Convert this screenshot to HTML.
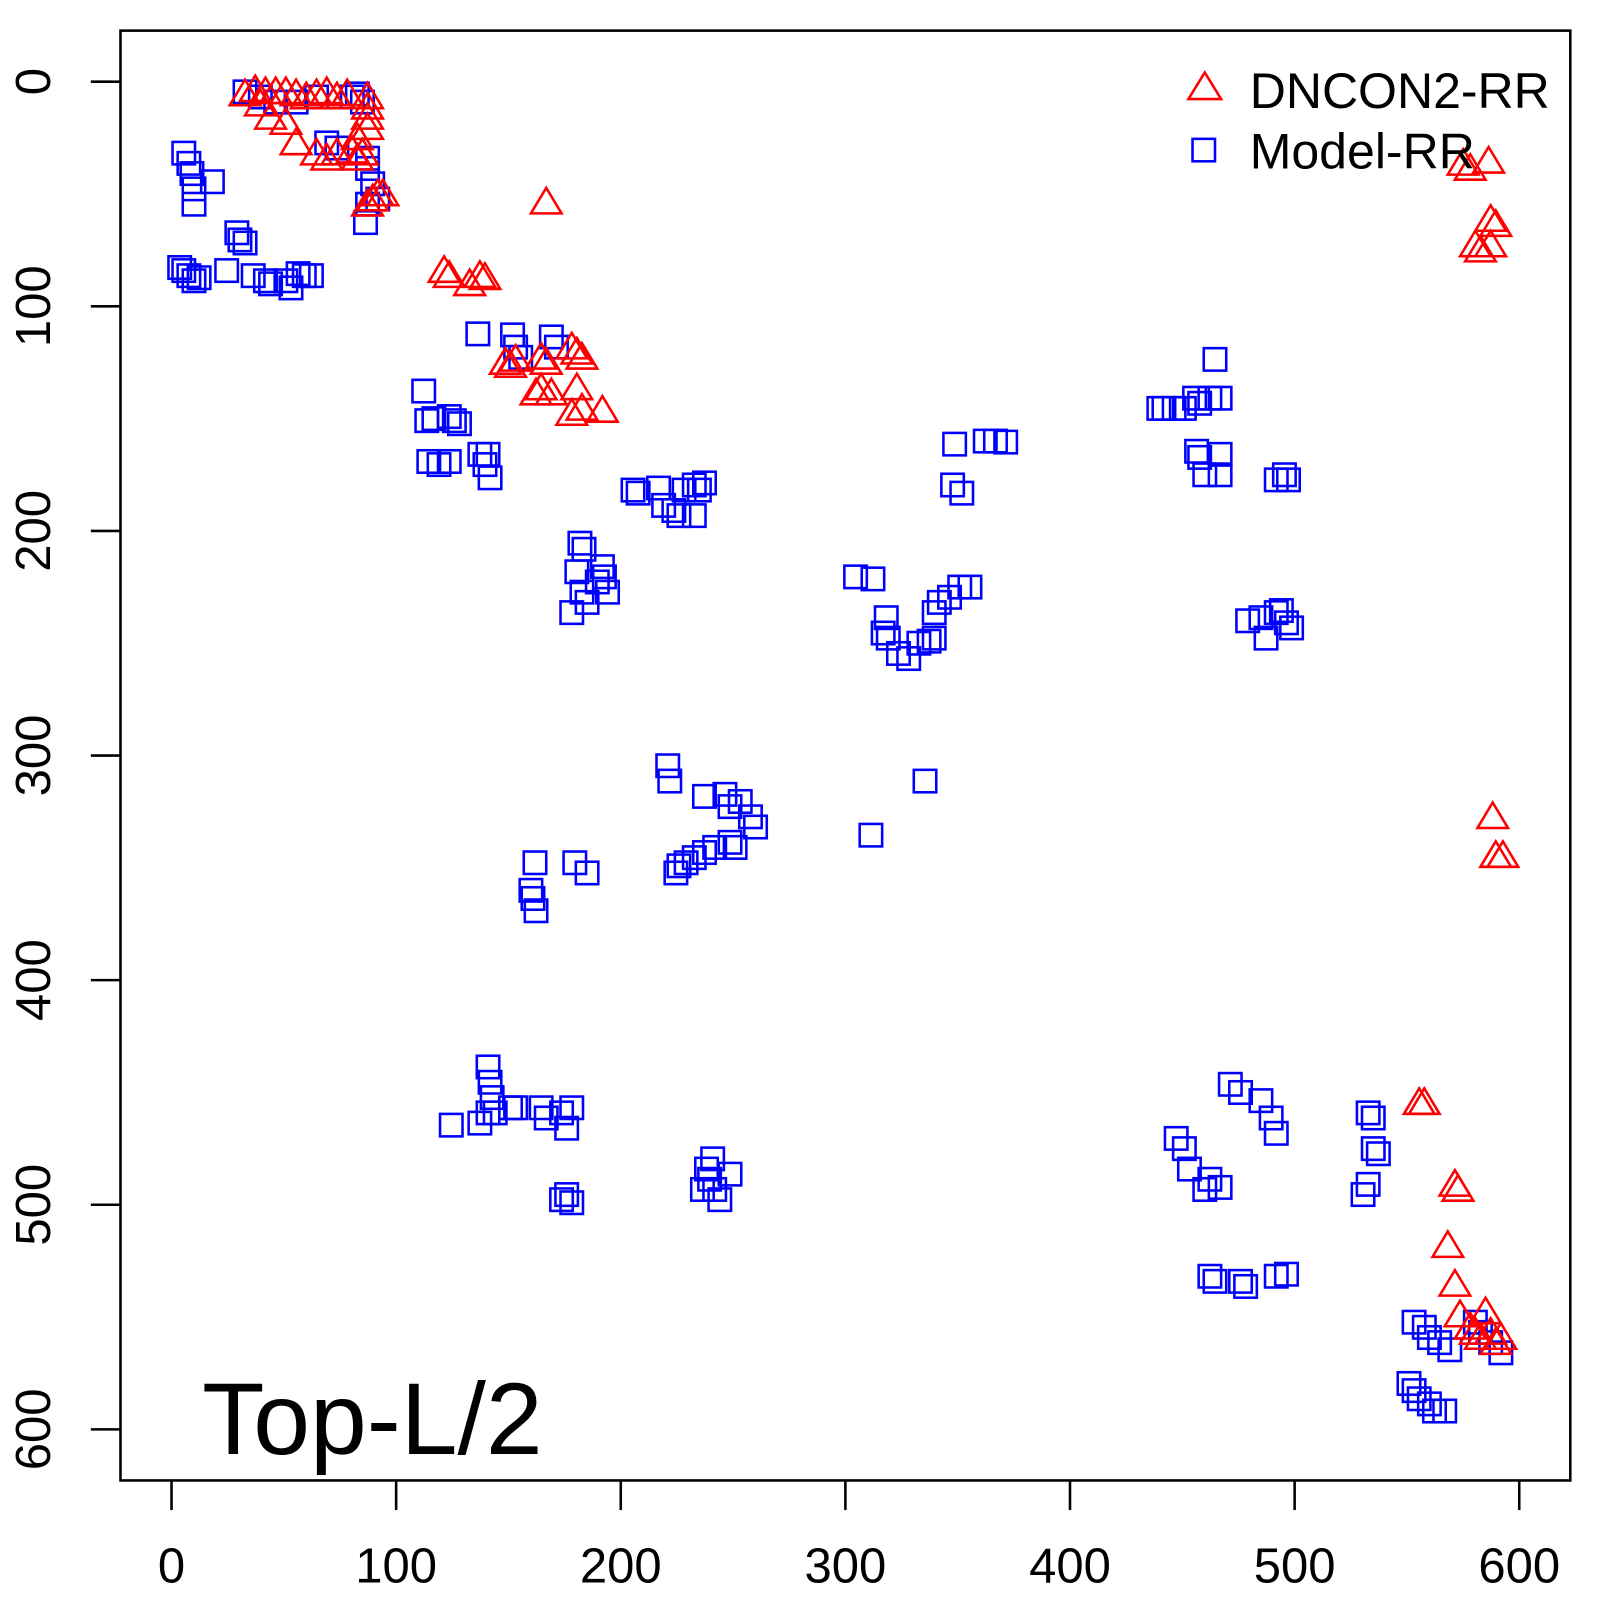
<!DOCTYPE html>
<html><head><meta charset="utf-8"><style>
html,body{margin:0;padding:0;background:#fff;}
svg{display:block;font-family:"Liberation Sans",sans-serif;}
</style></head><body>
<svg id="s" width="1600" height="1600" viewBox="0 0 1600 1600" xmlns="http://www.w3.org/2000/svg">
<g transform="scale(1.021)">
<rect x="118" y="30" width="1420" height="1420" fill="none" stroke="#000" stroke-width="2.5"/>
<g stroke="#000" stroke-width="2.5">
<line x1="168" y1="1450" x2="168" y2="1479"/><line x1="388" y1="1450" x2="388" y2="1479"/><line x1="608" y1="1450" x2="608" y2="1479"/><line x1="828" y1="1450" x2="828" y2="1479"/><line x1="1048" y1="1450" x2="1048" y2="1479"/><line x1="1268" y1="1450" x2="1268" y2="1479"/><line x1="1488" y1="1450" x2="1488" y2="1479"/>
<line x1="89" y1="80" x2="118" y2="80"/><line x1="89" y1="300" x2="118" y2="300"/><line x1="89" y1="520" x2="118" y2="520"/><line x1="89" y1="740" x2="118" y2="740"/><line x1="89" y1="960" x2="118" y2="960"/><line x1="89" y1="1180" x2="118" y2="1180"/><line x1="89" y1="1400" x2="118" y2="1400"/>
</g>
<g font-size="48" text-anchor="middle" fill="#000">
<text x="168" y="1550">0</text><text x="388" y="1550">100</text><text x="608" y="1550">200</text><text x="828" y="1550">300</text><text x="1048" y="1550">400</text><text x="1268" y="1550">500</text><text x="1488" y="1550">600</text>
<text transform="translate(49,80) rotate(-90)">0</text>
<text transform="translate(49,300) rotate(-90)">100</text>
<text transform="translate(49,520) rotate(-90)">200</text>
<text transform="translate(49,740) rotate(-90)">300</text>
<text transform="translate(49,960) rotate(-90)">400</text>
<text transform="translate(49,1180) rotate(-90)">500</text>
<text transform="translate(49,1400) rotate(-90)">600</text>
</g>
<g id="pts" fill="none" stroke-width="2.5"></g>
<g fill="none" stroke-width="2.5">
<polygon points="1164,97 1180,71 1196,97" stroke="#f00"/>
<rect x="1168" y="136" width="22" height="22" stroke="#00f"/>
</g>
<text x="1224" y="106" font-size="49">DNCON2-RR</text>
<text x="1224" y="165" font-size="49">Model-RR</text>
<text x="198" y="1424" font-size="100">Top-L/2</text>
</g>
</svg>
<script>
var B=[[180,150],[185,160],[188,170],[190,185],[190,200],[208,178],[176,262],[180,265],[185,270],[190,275],[195,272],[222,265],[232,228],[235,235],[240,238],[248,270],[260,275],[265,278],[280,275],[285,282],[292,268],[298,270],[305,270],
[240,90],[255,95],[270,100],[290,100],[310,95],[320,140],[330,145],[345,95],[350,92],[355,100],[360,155],[360,165],[360,200],[365,180],[370,195],[358,218],
[468,327],[502,328],[505,340],[510,350],[540,330],[545,340],[415,383],[418,412],[425,410],[440,408],[445,412],[450,415],[420,452],[430,455],[440,452],[470,445],[478,445],[480,468],[475,455],
[620,480],[625,483],[645,478],[650,495],[660,500],[670,480],[680,475],[685,480],[690,473],[680,505],[665,505],
[568,532],[572,538],[565,560],[570,580],[575,590],[585,570],[590,555],[592,565],[595,580],[560,600],
[838,565],[855,567],[868,605],[865,620],[870,625],[880,640],[890,645],[900,630],[910,628],[915,625],[915,600],[920,590],[930,585],[940,575],[950,575],
[935,435],[965,432],[975,432],[985,433],[933,475],[942,483],
[1135,400],[1140,400],[1150,400],[1160,400],[1170,390],[1175,395],[1185,390],[1195,390],[1190,352],[1172,442],[1175,448],[1180,465],[1195,445],[1195,465],[1250,470],[1258,465],[1262,470],
[1222,608],[1235,605],[1240,625],[1250,600],[1255,598],[1260,610],[1265,615],
[654,750],[656,765],[690,780],[710,778],[715,790],[725,785],[735,800],[740,810],[715,825],[720,830],[700,830],[690,835],[680,840],[672,845],[662,855],[665,848],[524,845],[520,872],[522,880],[525,892],[563,845],[575,855],[906,765],[853,818],
[442,1102],[478,1045],[480,1060],[482,1075],[478,1090],[470,1100],[485,1090],[500,1085],[505,1085],[530,1085],[535,1095],[550,1090],[560,1085],[555,1105],[550,1175],[555,1170],[560,1178],[698,1135],[695,1155],[700,1165],[705,1175],[715,1150],[688,1165],[692,1145],
[1205,1062],[1215,1070],[1235,1078],[1245,1095],[1250,1110],[1152,1115],[1160,1125],[1165,1145],[1185,1155],[1180,1165],[1195,1163],[1185,1250],[1190,1255],[1215,1255],[1220,1260],[1250,1250],[1260,1248],[1340,1090],[1345,1095],[1345,1125],[1350,1130],[1340,1160],[1335,1170],
[1385,1295],[1395,1300],[1400,1310],[1410,1315],[1420,1322],[1445,1295],[1450,1305],[1460,1315],[1470,1325],[1380,1355],[1385,1362],[1390,1370],[1400,1375],[1405,1382],[1415,1382]];
var R=[[240,92],[250,88],[260,90],[270,90],[280,90],[290,92],[300,95],[310,92],[320,90],[330,95],[340,92],[255,102],[265,115],[280,120],[290,140],[310,150],[320,155],[330,150],[345,148],[355,150],[350,135],[360,95],[360,105],[360,115],[360,125],[360,200],[365,195],[370,190],[375,190],[350,155],
[535,198],[435,265],[440,270],[470,270],[460,278],[475,272],
[495,355],[500,358],[505,352],[530,350],[535,355],[525,385],[530,380],[540,385],[560,340],[565,345],[570,350],[560,405],[570,400],[590,402],[565,380],
[1433,160],[1440,165],[1458,158],[1460,215],[1465,220],[1445,240],[1460,240],[1450,245],[1462,800],[1465,838],[1472,838],
[1390,1080],[1395,1080],[1425,1160],[1428,1165],[1418,1220],[1425,1258],[1430,1288],[1440,1300],[1450,1310],[1460,1305],[1465,1315],[1455,1285],[1445,1305],[1470,1310]];
var h='';
B.forEach(function(p){h+='<rect x="'+(p[0]-11)+'" y="'+(p[1]-11)+'" width="22" height="22" stroke="#00f"/>';});
R.forEach(function(p){h+='<polygon points="'+(p[0]-15)+','+(p[1]+11)+' '+p[0]+','+(p[1]-14)+' '+(p[0]+15)+','+(p[1]+11)+'" stroke="#f00"/>';});
document.getElementById('pts').innerHTML=h;
</script>
</body></html>
